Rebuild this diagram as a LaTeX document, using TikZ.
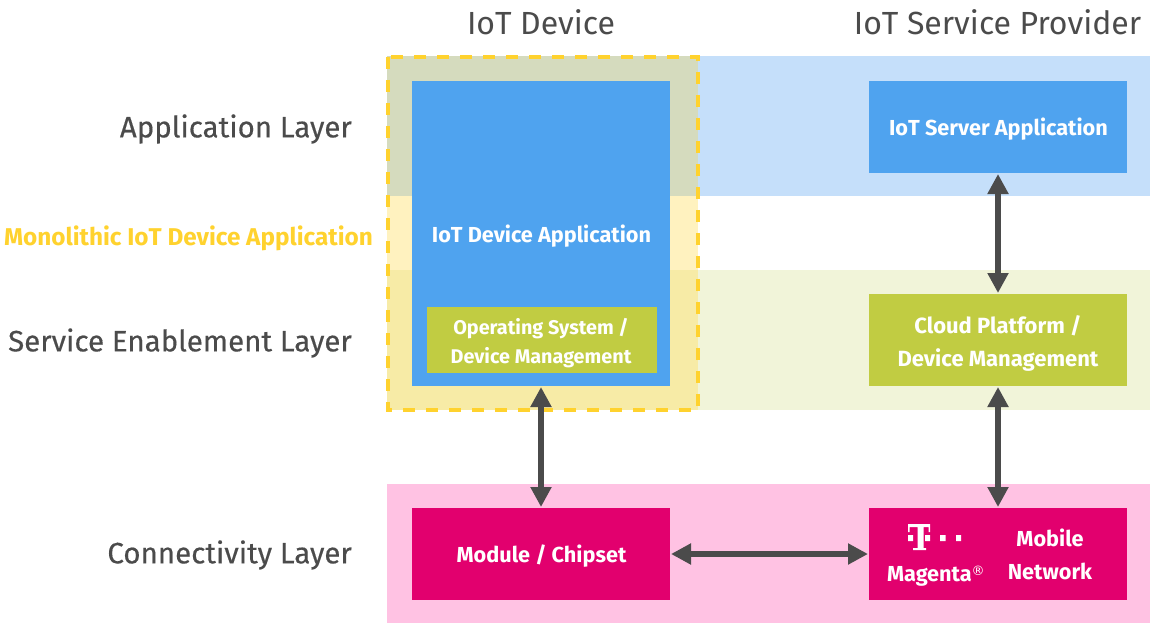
\documentclass[tikz,border=0pt]{standalone}
\usepackage{fontspec}
\setmainfont{Fira Sans}
\newfontfamily\symfont{DejaVu Sans}
\newfontfamily\medfont{Fira Sans}[FakeBold=0.35]
\usetikzlibrary{arrows.meta}
\definecolor{bandblue}{HTML}{C5DFFA}
\definecolor{bandgreen}{HTML}{F1F4D9}
\definecolor{bandpink}{HTML}{FFC2E3}
\definecolor{ovblue}{HTML}{D5DBBE}
\definecolor{ovplain}{HTML}{FFF2BF}
\definecolor{ovgreen}{HTML}{F7EBA6}
\definecolor{boxblue}{HTML}{4FA3EF}
\definecolor{boxgreen}{HTML}{C1CC42}
\definecolor{boxmag}{HTML}{E2006E}
\definecolor{dashy}{HTML}{FFD22E}
\definecolor{txt}{HTML}{4B4B4B}
\tikzset{
  x=1pt,y=-1pt,
  boxn/.style={inner sep=0pt,outer sep=0pt,text=white,align=center,font=\fontsize{21.7}{33}\selectfont\bfseries},
  textn/.style={inner sep=0pt,outer sep=0pt,text=white,align=center,font=\fontsize{21.7}{33}\selectfont\bfseries},
  heading/.style={inner sep=0pt,text=txt,font=\fontsize{32}{36}\selectfont},
  layer/.style={inner sep=0pt,anchor=east,text=txt,font=\medfont\fontsize{29.5}{33}\selectfont},
  link/.style={draw=txt,line width=6pt,{Triangle[width=20pt,length=20pt]}-{Triangle[width=20pt,length=20pt]},shorten >=1pt,shorten <=1pt},
}
\newcommand{\pxrect}[5]{\fill[#1] (#2,#3) rectangle (#4,#5);}
\begin{document}
\begin{tikzpicture}
\useasboundingbox (0,0) rectangle (1150,623);
\pxrect{bandblue}{698}{56}{1150}{196}
\pxrect{bandgreen}{698}{270}{1150}{410}
\pxrect{bandpink}{387}{484}{1150}{623}
\pxrect{ovblue}{387}{56}{698}{196}
\pxrect{ovplain}{387}{196}{698}{270}
\pxrect{ovgreen}{387}{270}{698}{410}
\draw[dashy,line width=3.5pt,dash pattern=on 12pt off 11pt] (388,57) rectangle (698,410);
\node[boxn,fill=boxblue,minimum width=258pt,minimum height=305pt] (app) at (541,233.5) {};
\node[textn] (apptext) at (541.5,236) {IoT Device Application};
\node[boxn,fill=boxgreen,minimum width=230pt,minimum height=66pt] (os) at (542,340) {};
\node[textn,font=\fontsize{19.8}{29}\selectfont\bfseries] (ostext) at (541,343) {Operating System /\\Device Management};
\node[boxn,fill=boxblue,minimum width=258pt,minimum height=92pt] (server) at (998,127) {};
\node[textn] (servertext) at (998.5,129.5) {IoT Server Application};
\node[boxn,fill=boxgreen,minimum width=258pt,minimum height=92pt] (cloud) at (998,340) {};
\node[textn,font=\fontsize{22}{33}\selectfont\bfseries] (cloudtext) at (998,343) {Cloud Platform /\\Device Management};
\node[boxn,fill=boxmag,minimum width=258pt,minimum height=92pt] (module) at (541,554) {};
\node[textn] (moduletext) at (541.5,556.5) {Module / Chipset};
\node[boxn,fill=boxmag,minimum width=258pt,minimum height=92pt] (mobile) at (998,554) {};
\node[textn] (mobiletext) at (1050,554) {Mobile\\Network};
\node[textn,anchor=west] (magenta) at (887,576.5) {Magenta\raisebox{6pt}{\symfont\fontsize{13}{13}\selectfont\mdseries ®}};
\fill[white] (908,524) rectangle (930,527) (917.5,524) rectangle (923.5,550)
  (913,548) rectangle (926,550)
  (908,524) rectangle (909.5,532) (928.5,524) rectangle (930,532)
  (908,535) rectangle (913,541) (925,535) rectangle (930,541)
  (940,535) rectangle (945.5,541) (956,535) rectangle (961,541);
\node[heading] (h1) at (541,22) {IoT Device};
\node[heading] (h2) at (997.5,22) {IoT Service Provider};
\node[layer] (l1) at (352,129) {Application Layer};
\node[layer,text=dashy,font=\fontsize{24.3}{30}\selectfont\bfseries] (l2) at (373,238) {Monolithic IoT Device Application};
\node[layer] (l3) at (352,343) {Service Enablement Layer};
\node[layer] (l4) at (352,555) {Connectivity Layer};
\draw[link] (app.south) -- (module.north);
\draw[link] (server.south) -- (cloud.north);
\draw[link] (cloud.south) -- (mobile.north);
\draw[link] (module.east) -- (mobile.west);
\end{tikzpicture}
\end{document}
